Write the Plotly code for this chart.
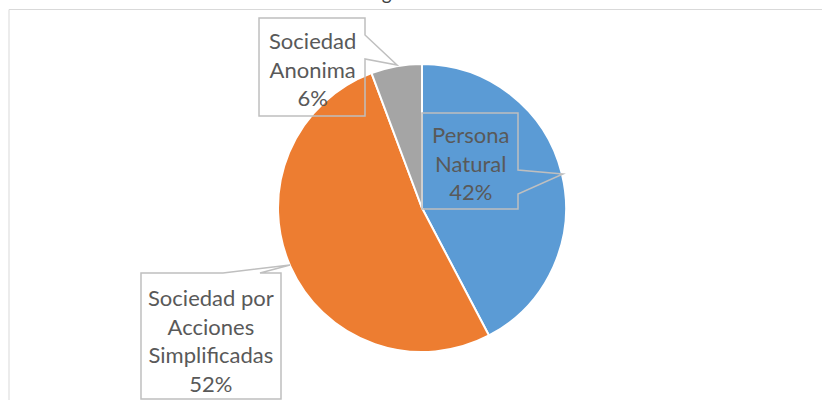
import plotly.graph_objects as go

W, H = 822, 400

# Data
labels = ["Persona Natural", "Sociedad por Acciones Simplificadas", "Sociedad Anonima"]
values = [42.3, 52.0, 5.7]
pct_text = ["42%", "52%", "6%"]
colors = ["#5B9BD5", "#ED7D31", "#A5A5A5"]
title_text = "Organización"

def px(x):
    return x / W

def py(y):
    return 1 - y / H

cx, cy, r = 422, 208, 144

fig = go.Figure()
fig.add_trace(go.Pie(
    labels=labels, values=values, sort=False, direction="clockwise", rotation=0,
    marker=dict(colors=colors, line=dict(color="white", width=2)),
    textinfo="none", showlegend=False,
    domain=dict(x=[px(cx - r), px(cx + r)], y=[py(cy + r), py(cy - r)]),
))

def path(points):
    s = "M " + " L ".join(f"{px(x):.5f},{py(y):.5f}" for x, y in points) + " Z"
    return s

callouts = [
    # Persona Natural: box with wedge on right edge
    [(422, 113), (518, 113), (518, 170), (563, 174), (518, 194), (518, 209), (422, 209)],
    # SAS: wedge on top edge
    [(141, 273), (223, 273), (290, 265), (260, 273), (281, 273), (281, 399), (141, 399)],
    # Sociedad Anonima: wedge on right edge
    [(259, 18), (365, 18), (365, 35), (397, 65), (365, 59), (365, 116), (259, 116)],
]
shapes = [dict(type="rect", xref="paper", yref="paper", x0=px(9), x1=px(840), y0=py(420), y1=py(9.5),
               line=dict(color="#D9D9D9", width=1), fillcolor="rgba(0,0,0,0)")]
for pts in callouts:
    shapes.append(dict(type="path", xref="paper", yref="paper", path=path(pts),
                       line=dict(color="#BFBFBF", width=1.5), fillcolor="rgba(0,0,0,0)"))

label_lines = [
    "Persona<br>Natural<br>" + pct_text[0],
    "Sociedad por<br>Acciones<br>Simplificadas<br>" + pct_text[1],
    "Sociedad<br>Anonima<br>" + pct_text[2],
]
label_pos = [(470, 163), (211, 340), (312, 69)]
annotations = []
for t, (x, y) in zip(label_lines, label_pos):
    annotations.append(dict(text=t, x=px(x), y=py(y), xref="paper", yref="paper",
                             xanchor="center", yanchor="middle", showarrow=False,
                             font=dict(family="Lato", size=22, color="#595959")))
annotations.append(dict(text=title_text, x=px(414), y=py(5), xref="paper", yref="paper",
                        xanchor="center", yanchor="bottom", showarrow=False, borderpad=0,
                        font=dict(family="Lato", size=19, color="#404040")))

fig.update_layout(width=W, height=H, margin=dict(l=0, r=0, t=0, b=0),
                  paper_bgcolor="white", plot_bgcolor="white",
                  shapes=shapes, annotations=annotations)
fig.write_html("out.html", config={"displayModeBar": False},
               post_script="document.body.style.margin='0';")
